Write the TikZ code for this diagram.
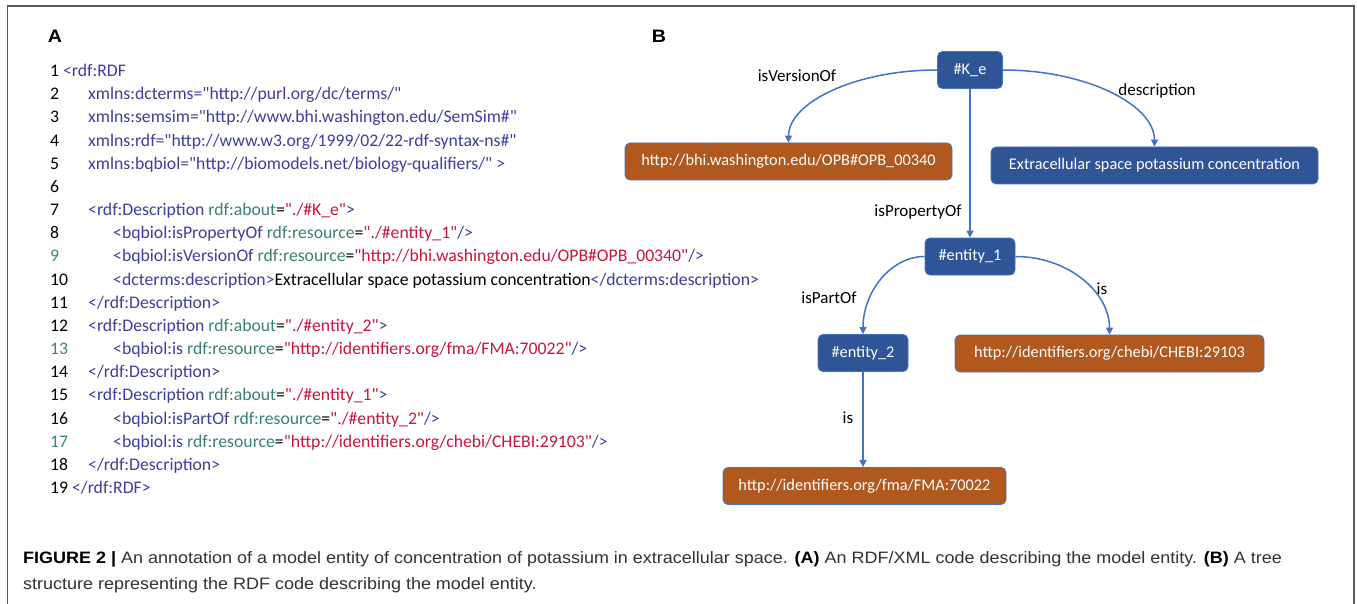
\documentclass[tikz,border=0pt]{standalone}
\usepackage{fontspec}
\setmainfont{Carlito}[Ligatures=TeXOff]
\newfontfamily\capfont{Liberation Sans}[FakeStretch=1.09]
\usetikzlibrary{arrows.meta}
\definecolor{tagc}{RGB}{62,62,158}
\definecolor{attc}{RGB}{58,128,118}
\definecolor{valc}{RGB}{200,22,62}
\definecolor{numc}{RGB}{70,130,130}
\definecolor{boxblue}{RGB}{47,85,151}
\definecolor{boxorange}{RGB}{176,88,30}
\definecolor{edgeblue}{RGB}{68,114,196}
\definecolor{framec}{RGB}{90,90,90}
\definecolor{captc}{RGB}{50,50,50}
\newcommand\tg[1]{\textcolor{tagc}{#1}}
\newcommand\atr[1]{\textcolor{attc}{#1}}
\newcommand\vl[1]{\textcolor{valc}{#1}}
\newcommand\mycodeln[4]{%
  \node[codetxt,text=#2] (n#1) at (50,{76.5+23.17*(#1-1)}) {#1};
  \node[codetxt] (c#1) at (#3,{76.5+23.17*(#1-1)}) {#4};}
\tikzset{
  codetxt/.style={anchor=base west, inner sep=0pt, font=\fontsize{17.7}{21}\selectfont, text=black},
  panel/.style={anchor=center, inner sep=0pt, font=\capfont\bfseries\fontsize{18}{21}\selectfont},
  bx/.style={rounded corners=5pt, draw=edgeblue, line width=0.8pt, text=white,
    minimum height=37pt, inner sep=0pt, font=\fontsize{16.3}{19}\selectfont},
  bluebox/.style={bx, fill=boxblue},
  orangebox/.style={bx, fill=boxorange},
  arr/.style={edgeblue, line width=1.5pt, -{Triangle[length=7pt,width=7pt]}},
  elab/.style={anchor=base, inner sep=0pt, font=\fontsize{17}{20}\selectfont, text=black},
  capt/.style={anchor=base west, inner sep=0pt, font=\capfont\fontsize{16.5}{19}\selectfont, text=captc}
}
\begin{document}
\begin{tikzpicture}[x=1pt,y=-1pt]
\useasboundingbox (0,0) rectangle (1357,604);
\fill[white] (0,0) rectangle (1357,604);
\draw[framec, line width=1.5pt] (7.5,604) -- (7.5,6) -- (1354,6) -- (1354,604);

% Panel A
\node[panel] (pa) at (55,36) {A};
\node[codetxt] (c1) at (50,76.5) {1 \tg{<rdf:RDF}};
\mycodeln{2}{black}{88}{\tg{xmlns:dcterms="http://purl.org/dc/terms/"}}
\mycodeln{3}{black}{88}{\tg{xmlns:semsim="http://www.bhi.washington.edu/SemSim\#"}}
\mycodeln{4}{black}{88}{\tg{xmlns:rdf="http://www.w3.org/1999/02/22-rdf-syntax-ns\#"}}
\mycodeln{5}{black}{88}{\tg{xmlns:bqbiol="http://biomodels.net/biology-qualifiers/" >}}
\node[codetxt] (n6) at (50,{76.5+23.17*5}) {6};
\mycodeln{7}{black}{88}{\tg{<rdf:Description} \atr{rdf:about}=\vl{"./\#K\_e"}\tg{>}}
\mycodeln{8}{black}{113}{\tg{<bqbiol:isPropertyOf} \atr{rdf:resource}=\vl{"./\#entity\_1"}\tg{/>}}
\mycodeln{9}{numc}{113}{\tg{<bqbiol:isVersionOf} \atr{rdf:resource}=\vl{"http://bhi.washington.edu/OPB\#OPB\_00340"}\tg{/>}}
\mycodeln{10}{black}{113}{\tg{<dcterms:description>}Extracellular space potassium concentration\tg{</dcterms:description>}}
\mycodeln{11}{black}{88}{\tg{</rdf:Description>}}
\mycodeln{12}{black}{88}{\tg{<rdf:Description} \atr{rdf:about}=\vl{"./\#entity\_2"}\tg{>}}
\mycodeln{13}{numc}{113}{\tg{<bqbiol:is} \atr{rdf:resource}=\vl{"http://identifiers.org/fma/FMA:70022"}\tg{/>}}
\mycodeln{14}{black}{88}{\tg{</rdf:Description>}}
\mycodeln{15}{black}{88}{\tg{<rdf:Description} \atr{rdf:about}=\vl{"./\#entity\_1"}\tg{>}}
\mycodeln{16}{black}{113}{\tg{<bqbiol:isPartOf} \atr{rdf:resource}=\vl{"./\#entity\_2"}\tg{/>}}
\mycodeln{17}{numc}{113}{\tg{<bqbiol:is} \atr{rdf:resource}=\vl{"http://identifiers.org/chebi/CHEBI:29103"}\tg{/>}}
\mycodeln{18}{black}{88}{\tg{</rdf:Description>}}
\node[codetxt] (c19) at (50,{76.5+23.17*18}) {19 \tg{</rdf:RDF>}};

% Panel B
\node[panel] (pb) at (659,36) {B};
\node[bluebox, minimum width=65pt] (K) at (970,70) {\#K\_e};
\node[orangebox, minimum width=327pt] (OPB) at (788.5,161.5) {http://bhi.washington.edu/OPB\#OPB\_00340};
\node[bluebox, minimum width=327pt] (EXT) at (1154.5,165.5) {Extracellular space potassium concentration};
\node[bluebox, minimum width=90pt] (E1) at (970,256.5) {\#entity\_1};
\node[bluebox, minimum width=90pt] (E2) at (863,353) {\#entity\_2};
\node[orangebox, minimum width=309pt] (CHEBI) at (1109.5,353.5) {http://identifiers.org/chebi/CHEBI:29103};
\node[orangebox, minimum width=283pt] (FMA) at (864.5,486) {http://identifiers.org/fma/FMA:70022};

\draw[arr] (K.west) .. controls +(-82,0) and +(0,-40) .. (OPB.north);
\draw[arr] (K.east) .. controls +(83,0) and +(0,-42) .. (EXT.north);
\draw[arr] (K.south) -- (E1.north);
\draw[arr] (E1.west) .. controls +(-34,0) and +(0,-42) .. (E2.north);
\draw[arr] (E1.east) .. controls +(52,0) and +(0,-43) .. (CHEBI.north);
\draw[arr] (E2.south) -- (E2.south |- FMA.north);

\node[elab] (lver) at (797,82) {isVersionOf};
\node[elab] (ldesc) at (1157,96) {description};
\node[elab] (lprop) at (918,216) {isPropertyOf};
\node[elab] (lpart) at (829,303) {isPartOf};
\node[elab] (lis1) at (1102,294) {is};
\node[elab] (lis2) at (848,423) {is};

% Caption
\node[capt] (cap1) at (23,563) {\textcolor{black}{\bfseries FIGURE 2 |} An annotation of a model entity of concentration of potassium in extracellular space. \textcolor{black}{\bfseries (A)} An RDF/XML code describing the model entity. \textcolor{black}{\bfseries (B)} A tree};
\node[capt] (cap2) at (23,589) {structure representing the RDF code describing the model entity.};
\end{tikzpicture}
\end{document}
